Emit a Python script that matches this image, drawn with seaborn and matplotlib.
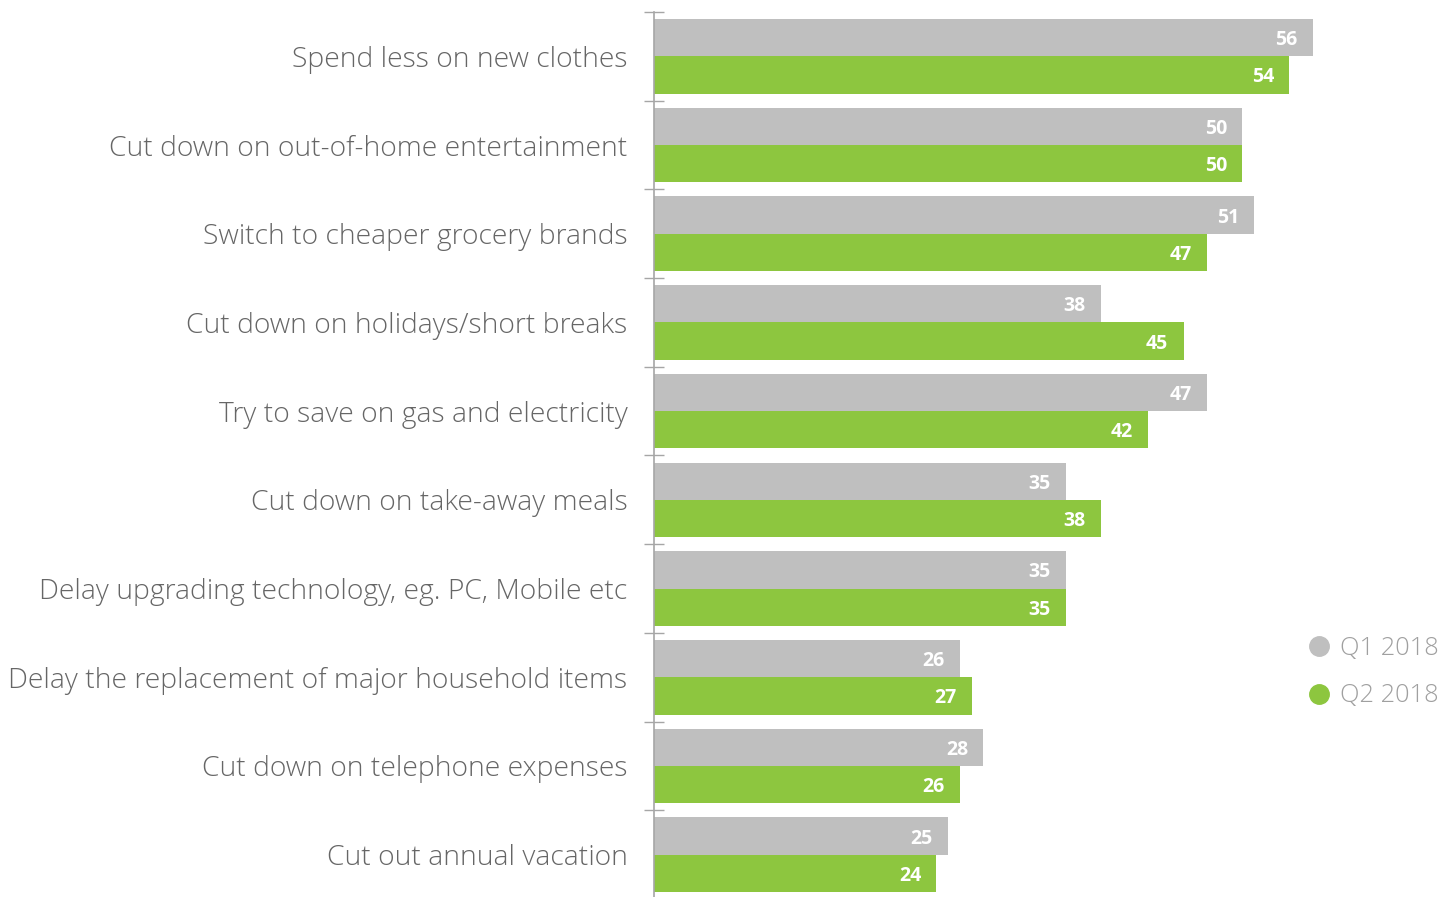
import matplotlib
matplotlib.use("Agg")
import matplotlib.pyplot as plt
import seaborn as sns
import pandas as pd
from matplotlib.lines import Line2D

categories = [
    "Spend less on new clothes",
    "Cut down on out-of-home entertainment",
    "Switch to cheaper grocery brands",
    "Cut down on holidays/short breaks",
    "Try to save on gas and electricity",
    "Cut down on take-away meals",
    "Delay upgrading technology, eg. PC, Mobile etc",
    "Delay the replacement of major household items",
    "Cut down on telephone expenses",
    "Cut out annual vacation",
]
q1_2018 = [56, 50, 51, 38, 47, 35, 35, 26, 28, 25]
q2_2018 = [54, 50, 47, 45, 42, 38, 35, 27, 26, 24]
series_names = ["Q1 2018", "Q2 2018"]
colors = ["#bfbfbf", "#8dc63f"]

df = pd.DataFrame({
    "category": categories * 2,
    "value": q1_2018 + q2_2018,
    "series": [series_names[0]] * len(categories) + [series_names[1]] * len(categories),
})

sns.set_theme(style="white")
plt.rcParams["font.family"] = ["Open Sans", "DejaVu Sans"]

W, H = 1453, 897
fig = plt.figure(figsize=(W / 100, H / 100), dpi=100)
ax = fig.add_axes([654 / W, 1 - 899 / H, 706 / W, 887 / H])

sns.barplot(data=df, y="category", x="value", hue="series", order=categories,
            hue_order=series_names, palette=colors, orient="h", width=0.84,
            saturation=1, ax=ax, legend=False, linewidth=0, edgecolor="none")

ax.set_xlim(0, 60)
ax.set_ylim(len(categories) - 0.5, -0.5)
ax.set_xlabel("")
ax.set_ylabel("")
ax.set_xticks([])
for s in ["top", "right", "bottom"]:
    ax.spines[s].set_visible(False)
ax.spines["left"].set_color("#a6a6a6")
ax.spines["left"].set_linewidth(1.2)

ax.set_yticks(range(len(categories)))
ax.set_yticklabels(categories, fontsize=20.3, color="#666666", fontweight="light")
ax.tick_params(axis="y", which="major", length=0, pad=19)
ax.set_yticks([i - 0.5 for i in range(len(categories))], minor=True)
ax.tick_params(axis="y", which="minor", left=True, length=14, width=1.0,
               direction="inout", color="#a6a6a6")

for cont in ax.containers:
    anns = ax.bar_label(cont, fmt="%d", padding=-11, color="white",
                        fontsize=14, fontweight="bold")
    for a in anns:
        a.set_ha("right")
        a.set_va("center_baseline")

handles = [Line2D([0], [0], marker="o", linestyle="", markersize=14,
                  markerfacecolor=c, markeredgecolor=c) for c in colors]
fig.legend(handles, series_names, loc="center left",
           bbox_to_anchor=(1276 / W, 1 - 672 / H), frameon=False,
           labelcolor="#a0a0a0", handletextpad=0.0, handlelength=1.6,
           labelspacing=0.9, prop={"weight": "light", "size": 18.3})

fig.savefig("out.png", dpi=100)
